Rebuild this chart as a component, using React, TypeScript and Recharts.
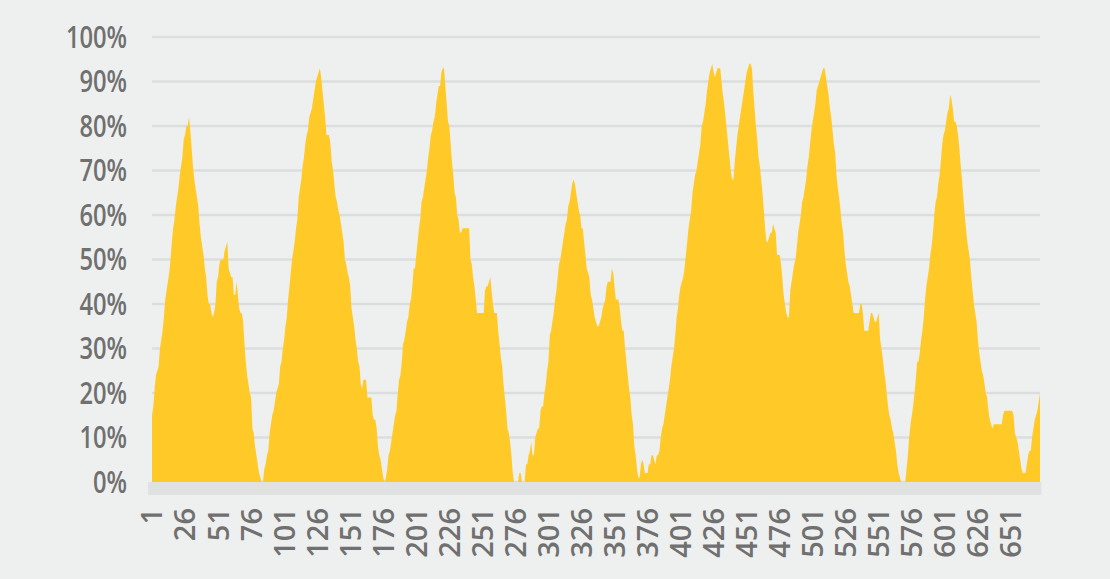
import React from "react";
import { AreaChart, Area, XAxis, YAxis, CartesianGrid, ReferenceArea } from "recharts";

const values: number[] = [
  15, 17, 21, 24, 25, 26, 30, 32, 34, 37,
  41, 43, 45, 47, 50, 54, 57, 59, 62, 64,
  66, 69, 71, 73, 77, 78, 80, 80, 82, 79,
  75, 71, 68, 66, 64, 62, 58, 55, 53, 51,
  48, 46, 42, 40, 40, 38, 37, 38, 40, 45,
  46, 49, 50, 50, 50, 52, 53, 54, 48, 47,
  46, 46, 42, 42, 45, 42, 39, 38, 38, 36,
  31, 27, 24, 22, 20, 19, 12, 11, 8, 6,
  4, 2, 1, 0, 0, 3, 4, 6, 7, 11,
  13, 15, 16, 18, 20, 21, 22, 26, 27, 30,
  32, 35, 37, 41, 44, 47, 50, 52, 54, 57,
  59, 64, 66, 68, 71, 73, 76, 78, 79, 82,
  83, 84, 86, 88, 90, 91, 92, 93, 91, 88,
  85, 82, 78, 78, 78, 76, 72, 70, 67, 64,
  63, 61, 60, 58, 56, 54, 50, 49, 47, 46,
  44, 39, 37, 35, 32, 30, 27, 26, 22, 21,
  23, 23, 23, 19, 19, 19, 19, 15, 14, 14,
  12, 8, 6, 5, 3, 1, 0, 1, 3, 6,
  7, 9, 11, 13, 15, 16, 20, 23, 24, 27,
  31, 32, 34, 36, 37, 40, 41, 44, 48, 48,
  51, 54, 57, 59, 63, 64, 66, 68, 70, 73,
  75, 78, 79, 81, 82, 85, 87, 89, 89, 92,
  93, 93, 89, 85, 81, 80, 76, 72, 69, 65,
  64, 60, 59, 56, 56, 57, 57, 57, 57, 57,
  57, 50, 49, 46, 44, 41, 38, 38, 38, 38,
  38, 38, 43, 44, 44, 45, 46, 43, 40, 38,
  38, 38, 34, 31, 28, 26, 22, 19, 16, 12,
  11, 9, 6, 2, 0, 0, 0, 0, 2, 2,
  0, 0, 0, 4, 4, 6, 7, 9, 6, 6,
  10, 11, 12, 12, 16, 17, 17, 20, 22, 25,
  27, 33, 34, 36, 38, 41, 43, 46, 49, 50,
  52, 54, 56, 58, 59, 62, 63, 65, 67, 68,
  67, 65, 63, 61, 60, 57, 57, 54, 51, 48,
  47, 46, 42, 41, 39, 37, 36, 35, 35, 36,
  37, 39, 40, 41, 44, 45, 45, 45, 48, 47,
  44, 41, 41, 41, 39, 36, 34, 34, 30, 27,
  24, 21, 19, 15, 13, 8, 6, 3, 1, 1,
  4, 5, 4, 2, 2, 2, 4, 4, 6, 6,
  5, 4, 6, 6, 7, 10, 12, 13, 15, 17,
  19, 21, 23, 26, 28, 30, 33, 37, 39, 42,
  44, 45, 46, 48, 51, 54, 57, 59, 61, 65,
  67, 69, 70, 72, 74, 76, 80, 81, 83, 85,
  88, 90, 92, 93, 94, 92, 91, 92, 93, 93,
  93, 90, 87, 85, 82, 79, 76, 73, 70, 68,
  68, 72, 75, 78, 80, 82, 84, 86, 88, 90,
  92, 93, 94, 94, 93, 88, 84, 80, 77, 73,
  71, 68, 65, 61, 57, 54, 54, 55, 56, 56,
  58, 57, 56, 51, 51, 51, 49, 46, 42, 40,
  38, 37, 37, 43, 45, 47, 49, 50, 53, 56,
  58, 60, 63, 64, 66, 68, 71, 73, 76, 79,
  81, 83, 85, 88, 89, 90, 91, 92, 93, 93,
  91, 89, 87, 84, 82, 79, 76, 74, 69, 66,
  64, 61, 58, 56, 52, 49, 47, 45, 44, 42,
  40, 38, 38, 38, 38, 38, 40, 40, 38, 34,
  34, 34, 34, 36, 38, 38, 37, 36, 36, 37,
  38, 32, 30, 28, 25, 23, 20, 17, 15, 14,
  12, 11, 9, 7, 4, 2, 1, 0, 0, 0,
  0, 3, 6, 10, 13, 15, 17, 20, 23, 27,
  27, 29, 32, 34, 37, 41, 44, 46, 48, 51,
  53, 56, 60, 63, 64, 67, 69, 72, 76, 78,
  79, 81, 83, 84, 87, 86, 84, 81, 81, 80,
  78, 75, 71, 68, 64, 60, 57, 54, 52, 50,
  46, 43, 40, 38, 36, 32, 29, 27, 25, 24,
  22, 20, 19, 16, 14, 13, 12, 13, 13, 13,
  13, 13, 13, 13, 15, 16, 16, 16, 16, 16,
  16, 16, 15, 11, 10, 9, 7, 5, 3, 2,
  2, 2, 4, 6, 7, 7, 10, 12, 14, 15,
  16, 18, 20,
];

const xTicks = [1, 26, 51, 76, 101, 126, 151, 176, 201, 226, 251, 276, 301, 326, 351, 376, 401, 426, 451, 476, 501, 526, 551, 576, 601, 626, 651];
const yTicks = [0, 10, 20, 30, 40, 50, 60, 70, 80, 90, 100];

const data = values.map((v, i) => ({ n: i + 1, v }));

const labelColor = "#707070";
const font = "'Open Sans', sans-serif";

const XTick = (props: any) => {
  const { x, y, payload } = props;
  return (
    <g transform={`translate(${x},${y})`}>
      <text transform="rotate(-90)" textAnchor="end" dy="0.36em" fill={labelColor} fontSize={29} fontWeight={600} fontFamily={font}>
        {payload.value}
      </text>
    </g>
  );
};

const YTick = (props: any) => {
  const { x, y, payload } = props;
  return (
    <g transform={`translate(${x},${y}) scale(0.79,1)`}>
      <text textAnchor="end" dy="0.36em" fill={labelColor} fontSize={30} fontWeight={600} fontFamily={font}>
        {payload.value}%
      </text>
    </g>
  );
};

export default function App() {
  return (
    <div style={{ position: "absolute", left: 0, top: 0, width: 1110, height: 579, background: "#eef0ef" }}>
      <AreaChart width={1110} height={579} data={data} margin={{ top: 37, right: 70, bottom: 0, left: 0 }}>
        <CartesianGrid horizontal vertical={false} stroke="#dcdede" strokeWidth={2.5} />
        <XAxis
          dataKey="n"
          type="number"
          domain={[1, 673]}
          ticks={xTicks}
          interval={0}
          height={97}
          axisLine={false}
          tickLine={false}
          tickSize={0}
          tickMargin={26}
          tick={<XTick />}
        />
        <YAxis
          domain={[0, 100]}
          ticks={yTicks}
          interval={0}
          width={152}
          axisLine={false}
          tickLine={false}
          tickSize={0}
          tickMargin={25}
          tick={<YTick />}
        />
        <ReferenceArea x1={-2} x2={674} y1={-2.9} y2={0} ifOverflow="visible" fill="#e0e2e1" fillOpacity={1} stroke="none" />
        <Area
          type="linear"
          dataKey="v"
          stroke="none"
          fill="#ffca27"
          fillOpacity={1}
          dot={false}
          activeDot={false}
          isAnimationActive={false}
        />
      </AreaChart>
    </div>
  );
}
